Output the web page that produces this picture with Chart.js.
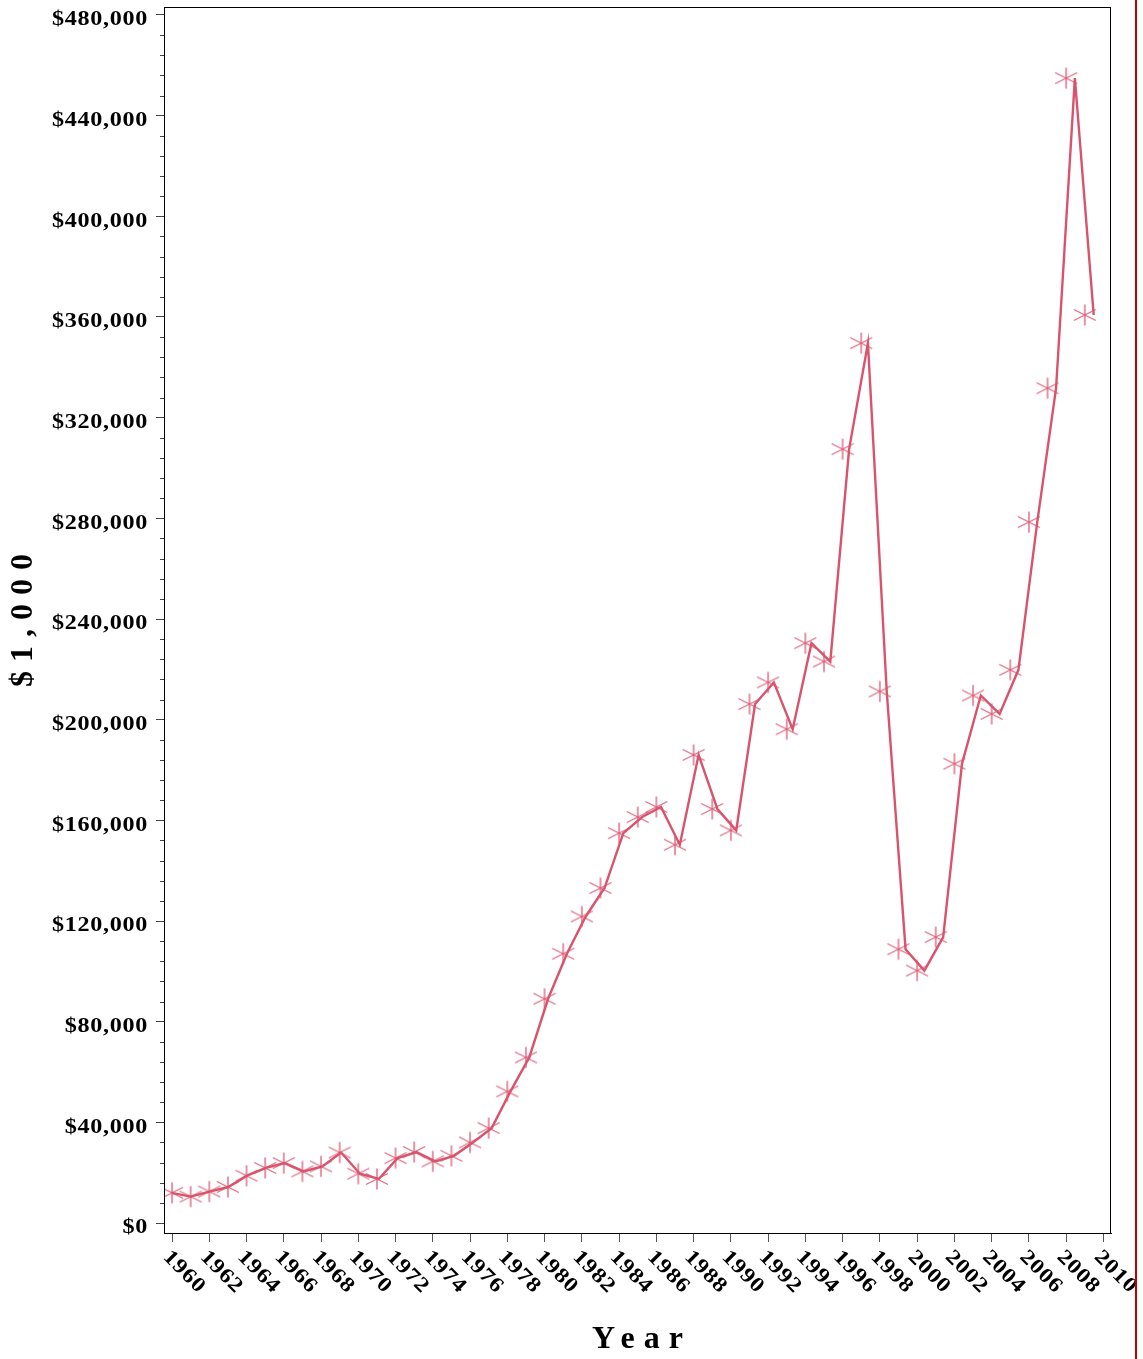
<!DOCTYPE html>
<html>
<head>
<meta charset="utf-8">
<script src="https://cdn.jsdelivr.net/npm/chart.js@4.4.1/dist/chart.umd.min.js"></script>
<style>
html, body { margin: 0; padding: 0; background: #fff; }
#wrap { position: relative; width: 1143px; height: 1359px; }
#redline { position: absolute; left: 1135px; top: 0; width: 2px; height: 1359px; background: #c00000; }
</style>
</head>
<body>
<div id="wrap">
    <canvas id="chart" width="1143" height="1359"></canvas>
    <div id="redline"></div>
</div>
<script>
// values in $
const years = [1960, 1961, 1962, 1963, 1964, 1965, 1966, 1967, 1968, 1969,
    1970, 1971, 1972, 1973, 1974, 1975, 1976, 1977, 1978, 1979,
    1980, 1981, 1982, 1983, 1984, 1985, 1986, 1987, 1988, 1989,
    1990, 1991, 1992, 1993, 1994, 1995, 1996, 1997, 1998, 1999,
    2000, 2001, 2002, 2003, 2004, 2005, 2006, 2007, 2008, 2009];
const values = [12000, 10500, 12500, 14300, 18800, 21900, 23800, 20500, 22500, 28000,
    19600, 17500, 25800, 28200, 24500, 26700, 32000, 37700, 52300, 65800,
    89100, 107000, 121800, 133100, 154900, 161300, 165300, 150300, 186000, 164500,
    156000, 206200, 214800, 196200, 230400, 223100, 307500, 349600, 211200, 108800,
    100300, 113600, 182500, 209600, 202300, 219800, 278500, 331700, 454900, 360800];
const yearTicks = [1960, 1962, 1964, 1966, 1968, 1970, 1972, 1974, 1976, 1978, 1980,
    1982, 1984, 1986, 1988, 1990, 1992, 1994, 1996, 1998, 2000, 2002, 2004, 2006, 2008, 2010];
const valueTicks = [0, 40000, 80000, 120000, 160000, 200000, 240000, 280000,
    320000, 360000, 400000, 440000, 480000];
const minorStep = 8000;

const lineColor = '#d9536c';
const serif = '"Liberation Serif", "Times New Roman", serif';
const stretch = 1.15; // tick labels are drawn a bit wide

function makeMarker() {
    const c = document.createElement('canvas');
    c.width = 24;
    c.height = 24;
    const g = c.getContext('2d');
    g.strokeStyle = 'rgba(224, 100, 126, 0.7)';
    g.lineWidth = 2;
    g.beginPath();
    g.moveTo(12, 1.5); g.lineTo(12, 22.5);
    g.stroke();
    g.strokeStyle = 'rgba(220, 86, 112, 0.9)';
    g.lineWidth = 1.2;
    g.beginPath();
    g.moveTo(1, 6.5); g.lineTo(23, 17.5);
    g.moveTo(1, 17.5); g.lineTo(23, 6.5);
    g.stroke();
    return c;
}

const points = years.map((yr, i) => ({ x: yr, y: values[i] }));

const decorations = {
    id: 'decorations',
    afterDraw(chart) {
        const ctx = chart.ctx;
        const area = chart.chartArea;
        const xs = chart.scales.x;
        const ys = chart.scales.y;
        ctx.save();

        // frame round the plot
        ctx.strokeStyle = '#000';
        ctx.lineWidth = 1;
        ctx.strokeRect(area.left + 0.5, area.top + 0.5, area.right - area.left - 1, area.bottom - area.top);

        // minor y ticks
        ctx.strokeStyle = '#444';
        ctx.beginPath();
        for (let v = 0; v <= valueTicks[valueTicks.length - 1]; v += minorStep) {
            if (v % 40000 === 0) continue;
            const y = Math.round(ys.getPixelForValue(v)) + 0.5;
            ctx.moveTo(area.left - 4, y);
            ctx.lineTo(area.left, y);
        }
        ctx.stroke();

        ctx.fillStyle = '#000';
        ctx.font = 'bold 21px ' + serif;
        ctx.letterSpacing = '0.6px';

        // y labels
        ctx.textAlign = 'right';
        ctx.textBaseline = 'middle';
        valueTicks.forEach(v => {
            ctx.save();
            ctx.translate(148, ys.getPixelForValue(v) + 5);
            ctx.scale(stretch, 1);
            ctx.fillText('$' + v.toLocaleString('en-US'), 0, 0);
            ctx.restore();
        });

        // x labels, turned clockwise
        ctx.textAlign = 'left';
        yearTicks.forEach(yr => {
            ctx.save();
            ctx.translate(xs.getPixelForValue(yr) - 6, area.bottom + 21);
            ctx.rotate(Math.PI / 4);
            ctx.scale(stretch, 1);
            ctx.fillText(String(yr), 0, 0);
            ctx.restore();
        });

        // axis titles
        ctx.font = 'bold 32px ' + serif;
        ctx.letterSpacing = '9px';
        ctx.textAlign = 'center';
        ctx.fillText('Year', 642, 1340);
        ctx.save();
        ctx.translate(24, 616);
        ctx.rotate(-Math.PI / 2);
        ctx.fillText('$1,000', 0, 0);
        ctx.restore();

        ctx.restore();
    }
};

new Chart(document.getElementById('chart'), {
    type: 'line',
    data: {
        datasets: [{
            label: 'line',
            data: points,
            xAxisID: 'x2',
            yAxisID: 'y',
            borderColor: lineColor,
            borderWidth: 2.4,
            pointRadius: 0,
            tension: 0,
            order: 0
        }, {
            label: 'markers',
            data: points,
            xAxisID: 'x',
            yAxisID: 'y',
            showLine: false,
            pointStyle: makeMarker(),
            pointRadius: 11,
            order: 1
        }]
    },
    options: {
        responsive: false,
        animation: false,
        devicePixelRatio: 1,
        layout: { autoPadding: false, padding: { top: 7, right: 32, left: 0, bottom: 0 } },
        plugins: {
            legend: { display: false },
            tooltip: { enabled: false }
        },
        scales: {
            x: {
                type: 'linear',
                min: 1959.5705,
                max: 2010.408,
                afterBuildTicks: axis => { axis.ticks = yearTicks.map(v => ({ value: v })); },
                afterFit: axis => { axis.height = 126; },
                ticks: { display: false },
                grid: { drawOnChartArea: false, drawTicks: true, tickLength: 9, tickColor: '#555' },
                border: { display: true, color: '#000', width: 1 }
            },
            x2: {
                type: 'linear',
                display: false,
                min: 1959.585,
                max: 2009.92
            },
            y: {
                type: 'linear',
                min: -3972,
                max: 483178,
                afterBuildTicks: axis => { axis.ticks = valueTicks.map(v => ({ value: v })); },
                afterFit: axis => { axis.width = 164; },
                ticks: { display: false },
                grid: { drawOnChartArea: false, drawTicks: true, tickLength: 8, tickColor: '#444' },
                border: { display: true, color: '#000', width: 1 }
            }
        }
    },
    plugins: [decorations]
});
</script>
</body>
</html>
